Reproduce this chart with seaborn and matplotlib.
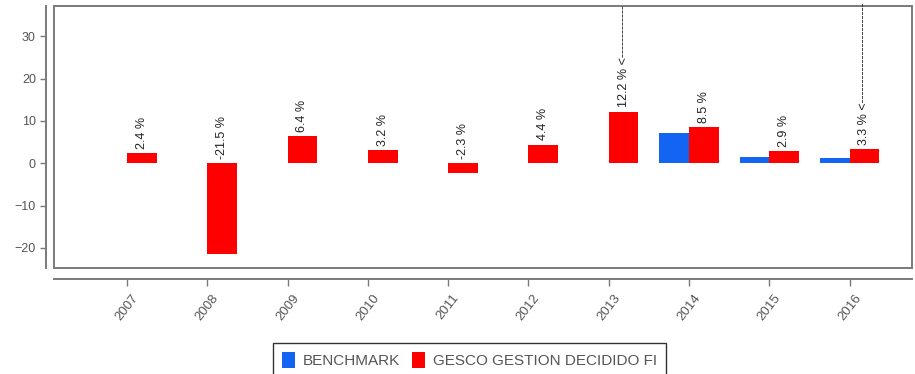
import matplotlib
matplotlib.use("Agg")
import matplotlib.pyplot as plt
import seaborn as sns
import pandas as pd
import numpy as np
from matplotlib.patches import Rectangle

years = ["2007", "2008", "2009", "2010", "2011", "2012", "2013", "2014", "2015", "2016"]
benchmark = [np.nan, np.nan, np.nan, np.nan, np.nan, np.nan, np.nan, 7.1, 1.4, 1.2]
fund = [2.4, -21.5, 6.4, 3.2, -2.3, 4.4, 12.2, 8.5, 2.9, 3.3]
series_names = ["BENCHMARK", "GESCO GESTION DECIDIDO FI"]
colors = ["#1464F4", "#FF0000"]
# years whose label carries the dashed pointer marker (number of dashes)
marked_years = {"2013": 13, "2016": 25}

df = pd.DataFrame({
    "year": years * 2,
    "series": [series_names[0]] * len(years) + [series_names[1]] * len(years),
    "value": benchmark + fund,
})

sns.set_theme(style="white")
plt.rcParams["font.family"] = ["Liberation Sans", "DejaVu Sans"]

fig = plt.figure(figsize=(9.15, 3.74), dpi=100)
ax = fig.add_axes([0.059, 0.283, 0.938, 0.70])

sns.barplot(data=df, x="year", y="value", hue="series", hue_order=series_names,
            palette=colors, width=0.74, saturation=1, ax=ax, legend=True,
            edgecolor="none", linewidth=0)

ax.set_xlim(-0.91, 9.78)
ax.set_ylim(-24.8, 37.1)
ax.set_xlabel("")
ax.set_ylabel("")
ax.set_yticks([-20, -10, 0, 10, 20, 30])

axis_gray = "#7a7a7a"
text_gray = "#555555"

# offset axis lines, panel drawn as a separate box
for side in ["top", "right"]:
    ax.spines[side].set_visible(False)
ax.spines["left"].set_position(("outward", 6))
ax.spines["bottom"].set_position(("outward", 8))
for side in ["left", "bottom"]:
    ax.spines[side].set_color(axis_gray)
    ax.spines[side].set_linewidth(1.4)
ax.add_patch(Rectangle((0, 0), 1, 1, transform=ax.transAxes, fill=False,
                       edgecolor=axis_gray, linewidth=1.4, clip_on=False, zorder=5))

ax.tick_params(axis="y", direction="out", length=4, width=1, color=axis_gray,
               labelcolor=text_gray, labelsize=9, left=True, pad=3)
ax.tick_params(axis="x", direction="out", length=5, width=1, color=axis_gray,
               labelcolor=text_gray, labelsize=9.5, bottom=True, pad=4)
for lbl in ax.get_xticklabels():
    lbl.set_rotation(52)
    lbl.set_ha("center")
    lbl.set_va("top")

# value labels above the fund bars
fund_bars = ax.containers[1]
for yr, val, bar in zip(years, fund, fund_bars):
    xc = bar.get_x() + bar.get_width() / 2
    txt = f"{val:.1f} %"
    if yr in marked_years:
        txt += " <" + "-" * marked_years[yr]
    ax.text(xc, max(val, 0) + 1.0, txt, rotation=90, ha="center", va="bottom",
            fontsize=9, color="#222222", clip_on=False, zorder=6)

handles, labels = ax.get_legend_handles_labels()
ax.get_legend().remove()
leg = fig.legend(handles, labels, loc="upper center", bbox_to_anchor=(0.513, 0.103),
                 ncol=2, frameon=True, fontsize=11, handlelength=0.85, handleheight=1.2,
                 handletextpad=0.5, columnspacing=0.8, borderpad=0.6,
                 fancybox=False, edgecolor="black", labelcolor=text_gray)
leg.get_frame().set_linewidth(1.0)

fig.savefig("out.png", dpi=100)
